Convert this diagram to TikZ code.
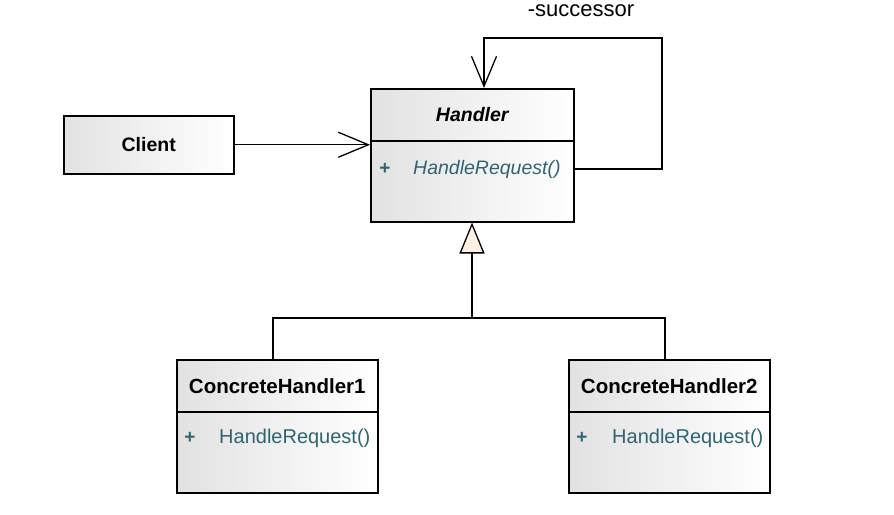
\documentclass[tikz,border=0pt]{standalone}
\usepackage{fontspec}
\setmainfont{Liberation Sans}
\usetikzlibrary{arrows.meta}
\definecolor{methcol}{HTML}{2F6473}
\definecolor{gencream}{HTML}{FCF1E3}
\definecolor{boxgrey}{HTML}{E2E2E2}
\tikzset{
  classpart/.style={draw=black, line width=1.5pt, left color=boxgrey, right color=white, inner sep=0pt, anchor=north west},
  clsname/.style={font=\fontsize{19.5}{22}\selectfont\bfseries, text=black},
  plus/.style={font=\fontsize{19}{22}\selectfont\bfseries, text=methcol},
  meth/.style={font=\fontsize{20}{22}\selectfont, text=methcol, anchor=west, inner sep=0pt},
  conn/.style={draw=black, line width=1.3pt},
  assoc/.style={conn, -{Straight Barb[length=30pt, width=25pt, line width=1.3pt]}},
  gen/.style={conn, -{Triangle[length=31pt, width=25pt, fill=gencream, line width=1.3pt]}},
}
\begin{document}
\begin{tikzpicture}[x=1pt, y=-1pt]
\useasboundingbox (0,0) rectangle (894,514);
% Client
\node[classpart, minimum width=170pt, minimum height=58pt] (client) at (63,115) {};
\node[clsname] (clientname) at (client.center) {Client};
% Handler
\node[classpart, minimum width=203pt, minimum height=52pt] (hhead) at (370,88) {};
\node[classpart, minimum width=203pt, minimum height=81pt] (hbody) at (370,140) {};
\node[clsname, font=\fontsize{19.5}{22}\selectfont\bfseries\itshape] (hname) at (hhead.center) {Handler};
\node[plus] (hplus) at (385,169) {+};
\node[meth, font=\fontsize{19.5}{22}\selectfont\itshape] (hmeth) at (413,169) {HandleRequest()};
% ConcreteHandler1
\node[classpart, minimum width=201pt, minimum height=52pt] (c1head) at (176,359) {};
\node[classpart, minimum width=201pt, minimum height=81pt] (c1body) at (176,411) {};
\node[clsname, font=\fontsize{20.5}{22}\selectfont\bfseries] (c1name) at (c1head.center) {ConcreteHandler1};
\node[plus] (c1plus) at (190,438) {+};
\node[meth] (c1meth) at (219,438) {HandleRequest()};
% ConcreteHandler2
\node[classpart, minimum width=201pt, minimum height=52pt] (c2head) at (568,359) {};
\node[classpart, minimum width=201pt, minimum height=81pt] (c2body) at (568,411) {};
\node[clsname, font=\fontsize{20.5}{22}\selectfont\bfseries] (c2name) at (c2head.center) {ConcreteHandler2};
\node[plus] (c2plus) at (582,438) {+};
\node[meth] (c2meth) at (612,438) {HandleRequest()};
% successor label
\node[font=\fontsize{22}{24}\selectfont, text=black] (succ) at (581,11) {-successor};
% association Client -> Handler
\draw[assoc] (client.east) -- (client.east -| hbody.west);
% self association
\coordinate (loopR) at (662,38);
\coordinate (loopL) at (484,38);
\draw[assoc] (hmeth.east -| hbody.east) -| (loopR) -- (loopL) -- (loopL |- hhead.north);
% generalization
\coordinate (join) at (472,318);
\coordinate (c1top) at (273,359);
\coordinate (c2top) at (665,359);
\draw[conn] (c1top) |- (join) -| (c2top);
\draw[gen] (join) -- (join |- hbody.south);
\end{tikzpicture}
\end{document}
